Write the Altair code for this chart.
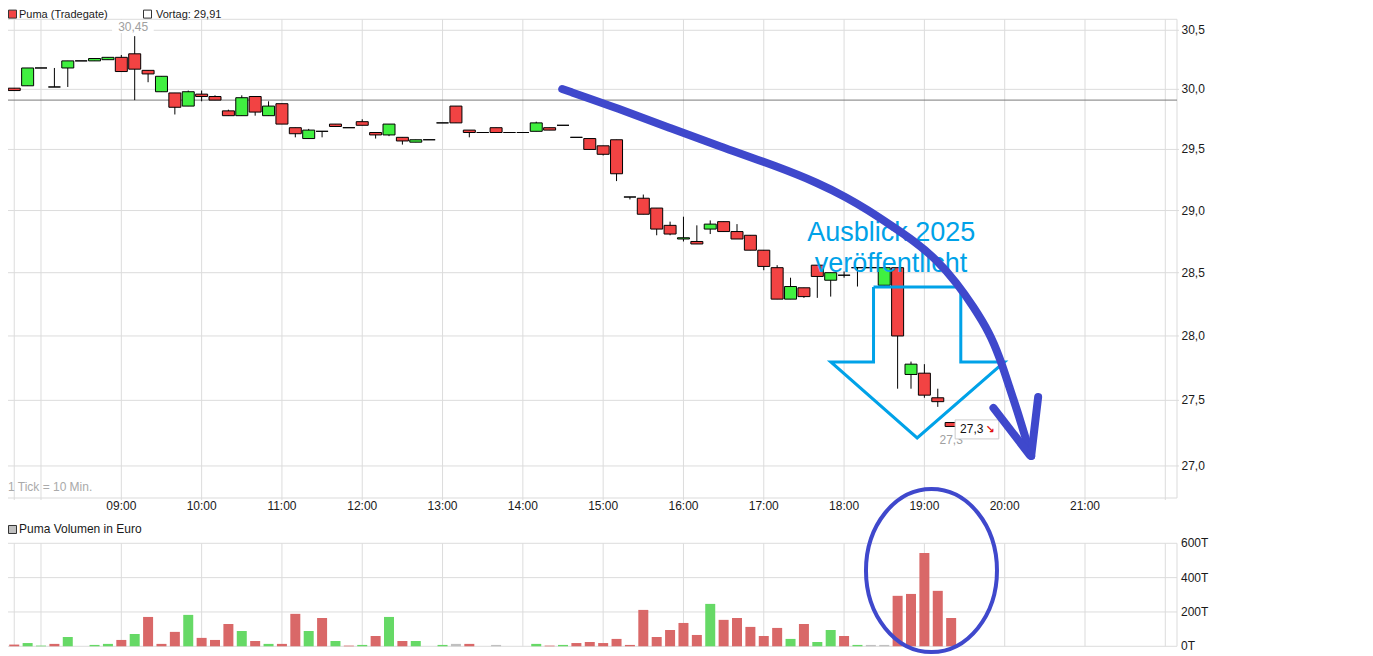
import altair as alt
import pandas as pd

# ---------------- data (10-minute candles, Tradegate) ----------------
start_time = "07:40"
tick_minutes = 10

opens = [30.01, 30.03, 30.18, 30.02, 30.18, 30.24, 30.24, 30.25, 30.27, 30.30,
         30.16, 29.98, 29.97, 29.86, 29.96, 29.94, 29.82, 29.78, 29.94, 29.78,
         29.88, 29.68, 29.59, 29.65, 29.71, 29.68, 29.73, 29.64, 29.62, 29.60,
         29.56, 29.58, 29.72, 29.86, 29.66, 29.64, 29.68, 29.64, 29.64, 29.65,
         29.68, 29.70, 29.60, 29.59, 29.53, 29.58, 29.11, 29.10, 29.02, 28.88,
         28.77, 28.75, 28.85, 28.91, 28.83, 28.80, 28.68, 28.54, 28.29, 28.38,
         28.56, 28.44, 28.48, 28.54, 28.54, 28.40, 28.54, 27.70, 27.71, 27.52,
         27.33]
highs = [30.01, 30.18, 30.18, 30.18, 30.24, 30.24, 30.26, 30.27, 30.29, 30.45,
         30.16, 30.11, 29.97, 29.99, 29.99, 29.95, 29.83, 29.95, 29.94, 29.90,
         29.88, 29.68, 29.67, 29.65, 29.71, 29.68, 29.75, 29.64, 29.71, 29.60,
         29.58, 29.58, 29.72, 29.86, 29.66, 29.64, 29.68, 29.64, 29.64, 29.73,
         29.68, 29.70, 29.60, 29.59, 29.53, 29.58, 29.11, 29.13, 29.02, 28.91,
         28.95, 28.88, 28.92, 28.91, 28.89, 28.80, 28.68, 28.56, 28.46, 28.38,
         28.56, 28.50, 28.51, 28.54, 28.54, 28.54, 28.54, 27.80, 27.78, 27.59,
         27.33]
lows = [29.99, 30.03, 30.18, 30.02, 30.02, 30.24, 30.24, 30.25, 30.15, 29.91,
        30.06, 29.98, 29.79, 29.86, 29.90, 29.91, 29.78, 29.78, 29.78, 29.78,
        29.71, 29.60, 29.59, 29.60, 29.69, 29.68, 29.70, 29.59, 29.61, 29.54,
        29.56, 29.58, 29.72, 29.72, 29.60, 29.64, 29.64, 29.64, 29.64, 29.65,
        29.66, 29.70, 29.60, 29.50, 29.45, 29.24, 29.09, 28.97, 28.80, 28.80,
        28.75, 28.73, 28.81, 28.83, 28.77, 28.68, 28.52, 28.29, 28.29, 28.30,
        28.30, 28.31, 28.46, 28.39, 28.54, 28.40, 27.59, 27.59, 27.52, 27.45,
        27.30]
closes = [29.99, 30.18, 30.18, 30.02, 30.24, 30.24, 30.26, 30.27, 30.15, 30.17,
          30.13, 30.11, 29.85, 29.98, 29.94, 29.91, 29.78, 29.93, 29.81, 29.86,
          29.71, 29.63, 29.66, 29.65, 29.69, 29.68, 29.70, 29.62, 29.71, 29.57,
          29.58, 29.58, 29.72, 29.72, 29.64, 29.64, 29.64, 29.64, 29.64, 29.72,
          29.66, 29.70, 29.60, 29.50, 29.46, 29.30, 29.11, 28.97, 28.85, 28.81,
          28.78, 28.73, 28.89, 28.83, 28.77, 28.68, 28.55, 28.29, 28.39, 28.31,
          28.47, 28.50, 28.48, 28.54, 28.54, 28.54, 28.00, 27.78, 27.54, 27.49,
          27.30]
volumes_t = [10, 19, 4, 14, 54, 0, 8, 14, 37, 72,
             171, 14, 84, 183, 49, 37, 130, 89, 31, 14,
             14, 189, 89, 165, 31, 4, 8, 60, 171, 31,
             31, 0, 8, 14, 14, 0, 8, 0, 0, 14,
             4, 8, 19, 25, 19, 43, 8, 212, 54, 95,
             136, 66, 247, 154, 165, 113, 60, 107, 43, 130,
             25, 95, 60, 8, 8, 8, 294, 305, 544, 323,
             165]
volume_side = ["dn", "up", "up", "dn", "up", "up", "up", "up", "dn", "up",
               "dn", "dn", "dn", "up", "dn", "dn", "dn", "up", "dn", "up",
               "dn", "dn", "up", "dn", "up", "dn", "up", "dn", "up", "dn",
               "up", "up", "up", "nn", "dn", "nn", "nn", "nn", "nn", "up",
               "dn", "up", "dn", "dn", "dn", "dn", "dn", "dn", "dn", "dn",
               "dn", "dn", "up", "dn", "dn", "dn", "dn", "dn", "up", "dn",
               "up", "up", "dn", "up", "nn", "nn", "dn", "dn", "dn", "dn",
               "dn"]

prev_close = 29.91
prev_close_label = "Vortag: 29,91"
series_label = "Puma (Tradegate)"
volume_label = "Puma Volumen in Euro"
tick_note = "1 Tick = 10 Min."

price_ticks = [27.0, 27.5, 28.0, 28.5, 29.0, 29.5, 30.0, 30.5]
price_tick_labels = ["27,0", "27,5", "28,0", "28,5", "29,0", "29,5", "30,0", "30,5"]
volume_ticks = [0, 200, 400, 600]
volume_tick_labels = ["0T", "200T", "400T", "600T"]
grid_times = ["07:40", "08:00", "09:00", "10:00", "11:00", "12:00", "13:00", "14:00",
              "15:00", "16:00", "17:00", "18:00", "19:00", "20:00", "21:00", "22:00"]
axis_times = ["09:00", "10:00", "11:00", "12:00", "13:00", "14:00", "15:00",
              "16:00", "17:00", "18:00", "19:00", "20:00", "21:00"]

high_label = "30,45"
low_label = "27,3"
last_label = "27,3"

# annotations (time index, price / volume units)
trend_i = [40.94, 45.24, 48.94, 52.64, 57.09, 60.05, 62.27, 63.76, 65.46, 67.24,
           68.94, 70.42, 71.68, 72.87, 73.61, 74.35, 75.09, 75.76, 75.98]
trend_p = [30.003, 29.836, 29.678, 29.529, 29.356, 29.225, 29.102, 29.005, 28.883, 28.754,
           28.602, 28.418, 28.228, 28.024, 27.836, 27.603, 27.373, 27.144, 27.076]
barb_left_i = [73.16, 75.87]
barb_left_p = [27.442, 27.083]
barb_right_i = [76.50, 75.98]
barb_right_p = [27.526, 27.076]
outline_i = [64.20, 70.72, 70.72, 73.98, 67.46, 61.01, 64.20, 64.20]
outline_p = [28.386, 28.386, 27.797, 27.797, 27.212, 27.797, 27.797, 28.386]
note_lines = ["Ausblick 2025", "veröffentlicht"]
note_i = [65.53, 65.50]
note_p = [28.757, 28.508]
ellipse_i = [68.53]
ellipse_v = [441.5]
high_box_i = [7.31, 10.42]
high_box_p = [30.588, 30.477]
last_box_i = [70.30, 73.56]
last_box_p = [27.350, 27.205]
last_text_i = [70.67, 72.57]
last_text_p = [27.247, 27.247]

# ---------------- layout / styles ----------------
PLOT_W = 1174.7
PRICE_TOP = 2.0
PRICE_BOTTOM = 480.7
VOL_TOP, VOL_BOTTOM = 526.0, 629.0
FONT = "Liberation Sans"
GRID = "#dcdcdc"
RED, GREEN = "#f24343", "#40f040"
VRED, VGREEN, VGRAY = "#d96868", "#66d966", "#c0c0c0"
INDIGO, TURQ = "#3f48cc", "#00a2e8"

t0 = int(start_time[:2]) * 60 + int(start_time[3:])


def idx(t):
    return (int(t[:2]) * 60 + int(t[3:]) - t0) / tick_minutes


XS = alt.Scale(domain=[-0.5185, 86.5], range=[0, PLOT_W], nice=False, zero=False)
PS = alt.Scale(type="log", domain=[26.759, 30.611], range=[PRICE_BOTTOM, 0], nice=False)
VS = alt.Scale(domain=[0, 600], range=[VOL_BOTTOM, VOL_TOP], nice=False, zero=True)


def X(f):
    return alt.X(f, type="quantitative", scale=XS, axis=None)


def YP(f):
    return alt.Y(f, type="quantitative", scale=PS, axis=None)


def YV(f):
    return alt.Y(f, type="quantitative", scale=VS, axis=None)


n = len(opens)
candles = pd.DataFrame({"i": list(range(n)), "open": opens, "high": highs,
                        "low": lows, "close": closes, "vol": volumes_t, "vside": volume_side})
candles["dir"] = ["up" if c > o else ("dn" if c < o else "flat") for o, c in zip(opens, closes)]

one = pd.DataFrame({"k": [0]})

layers = []

# grids
pt = pd.DataFrame({"p": price_ticks, "lab": price_tick_labels})
vt = pd.DataFrame({"v": volume_ticks, "lab": volume_tick_labels})
gt = pd.DataFrame({"i": [idx(t) for t in grid_times]})
at = pd.DataFrame({"i": [idx(t) for t in axis_times], "lab": axis_times})

layers.append(alt.Chart(pt).mark_rule(color=GRID, strokeWidth=1).encode(
    y=YP("p"), x=alt.value(0), x2=alt.value(PLOT_W + 2)))
layers.append(alt.Chart(gt).mark_rule(color=GRID, strokeWidth=1).encode(
    x=X("i"), y=alt.value(PRICE_TOP), y2=alt.value(PRICE_BOTTOM + 2)))
layers.append(alt.Chart(vt).mark_rule(color=GRID, strokeWidth=1).encode(
    y=YV("v"), x=alt.value(0), x2=alt.value(PLOT_W)))
layers.append(alt.Chart(gt).mark_rule(color=GRID, strokeWidth=1).encode(
    x=X("i"), y=alt.value(VOL_TOP), y2=alt.value(VOL_BOTTOM)))
# panel borders
for y1, y2 in [(PRICE_TOP, PRICE_BOTTOM), (VOL_TOP, VOL_BOTTOM)]:
    layers.append(alt.Chart(one).mark_rule(color=GRID).encode(
        x=alt.value(0), y=alt.value(y1), y2=alt.value(y2)))
    layers.append(alt.Chart(one).mark_rule(color=GRID).encode(
        x=alt.value(PLOT_W), y=alt.value(y1), y2=alt.value(y2)))
for yy in [PRICE_TOP, PRICE_BOTTOM]:
    layers.append(alt.Chart(one).mark_rule(color=GRID).encode(
        y=alt.value(yy), x=alt.value(0), x2=alt.value(PLOT_W)))

# axis labels
layers.append(alt.Chart(pt).mark_text(font=FONT, fontSize=12, color="#1a1a1a", align="left",
                                      baseline="middle").encode(
    y=YP("p"), x=alt.value(PLOT_W + 4.5), text="lab:N"))
layers.append(alt.Chart(vt).mark_text(font=FONT, fontSize=12, color="#1a1a1a", align="left",
                                      baseline="middle").encode(
    y=YV("v"), x=alt.value(PLOT_W + 4), text="lab:N"))
layers.append(alt.Chart(at).mark_text(font=FONT, fontSize=12, color="#1a1a1a", align="center",
                                      baseline="alphabetic").encode(
    x=X("i"), y=alt.value(493.2), text="lab:N"))

# legends / notes
LEG_BASE = 0.8
layers.append(alt.Chart(one).mark_rect(fill=RED, stroke="#333333", strokeWidth=1).encode(
    x=alt.value(6.2), x2=alt.value(14.2), y=alt.value(LEG_BASE - 8), y2=alt.value(LEG_BASE)))
layers.append(alt.Chart(one).mark_text(font=FONT, fontSize=11, color="#1a1a1a", align="left",
                                       baseline="alphabetic").encode(
    x=alt.value(16.7), y=alt.value(LEG_BASE), text=alt.value(series_label)))
layers.append(alt.Chart(one).mark_rect(fill="white", stroke="#333333", strokeWidth=1).encode(
    x=alt.value(141.2), x2=alt.value(149.2), y=alt.value(LEG_BASE - 8), y2=alt.value(LEG_BASE)))
layers.append(alt.Chart(one).mark_text(font=FONT, fontSize=11, color="#1a1a1a", align="left",
                                       baseline="alphabetic").encode(
    x=alt.value(153.7), y=alt.value(LEG_BASE), text=alt.value(prev_close_label)))
layers.append(alt.Chart(one).mark_rect(fill=VGRAY, stroke="#333333", strokeWidth=1).encode(
    x=alt.value(6.2), x2=alt.value(14.2), y=alt.value(508.2), y2=alt.value(516.2)))
layers.append(alt.Chart(one).mark_text(font=FONT, fontSize=12, color="#1a1a1a", align="left",
                                       baseline="alphabetic").encode(
    x=alt.value(16.7), y=alt.value(516.2), text=alt.value(volume_label)))
layers.append(alt.Chart(one).mark_text(font=FONT, fontSize=12, color="#aaaaaa", align="left",
                                       baseline="alphabetic").encode(
    x=alt.value(5.7), y=alt.value(474.2), text=alt.value(tick_note)))

# previous close line
layers.append(alt.Chart(pd.DataFrame({"p": [prev_close]})).mark_rule(color="#7a7a7a", strokeWidth=1).encode(
    y=YP("p"), x=alt.value(0), x2=alt.value(PLOT_W)))

# high label with white background
hb = pd.DataFrame({"x1": [high_box_i[0]], "x2": [high_box_i[1]], "y1": [high_box_p[0]], "y2": [high_box_p[1]]})
layers.append(alt.Chart(hb).mark_rect(fill="white").encode(
    x=X("x1"), x2="x2", y=YP("y1"), y2="y2"))
hi_idx = highs.index(max(highs))
layers.append(alt.Chart(pd.DataFrame({"i": [hi_idx], "p": [highs[hi_idx]], "lab": [high_label]})).mark_text(
    font=FONT, fontSize=12, color="#a0a0a0", align="center", baseline="alphabetic", dy=-5.2, dx=-1.5).encode(
    x=X("i"), y=YP("p"), text="lab:N"))

# wicks and bodies
layers.append(alt.Chart(candles).transform_filter("datum.high > datum.low").mark_rule(
    color="black", strokeWidth=1).encode(x=X("i"), y=YP("high"), y2="low"))
layers.append(alt.Chart(candles).mark_bar(size=12, stroke="black", strokeWidth=1).encode(
    x=X("i"), y=YP("open"), y2="close",
    color=alt.Color("dir:N", scale=alt.Scale(domain=["up", "dn", "flat"], range=[GREEN, RED, "black"]),
                    legend=None)))

# volume bars
layers.append(alt.Chart(candles).transform_filter("datum.vol > 0").mark_bar(size=10).encode(
    x=X("i"), y=YV("vol"),
    fill=alt.Fill("vside:N", scale=alt.Scale(domain=["up", "dn", "nn"], range=[VGREEN, VRED, VGRAY]),
                  legend=None)))

# low label + last price tag
lo_idx = lows.index(min(lows))
layers.append(alt.Chart(pd.DataFrame({"i": [lo_idx], "p": [lows[lo_idx]], "lab": [low_label]})).mark_text(
    font=FONT, fontSize=12, color="#a0a0a0", align="center", baseline="alphabetic", dy=18).encode(
    x=X("i"), y=YP("p"), text="lab:N"))
lb = pd.DataFrame({"x1": [last_box_i[0]], "x2": [last_box_i[1]], "y1": [last_box_p[0]], "y2": [last_box_p[1]]})
layers.append(alt.Chart(lb).mark_rect(fill="white", stroke="#cccccc", strokeWidth=1).encode(
    x=X("x1"), x2="x2", y=YP("y1"), y2="y2"))
layers.append(alt.Chart(pd.DataFrame({"i": [last_text_i[0]], "p": [last_text_p[0]], "lab": [last_label]})).mark_text(
    font=FONT, fontSize=12, color="#111111", align="left", baseline="alphabetic").encode(
    x=X("i"), y=YP("p"), text="lab:N"))
layers.append(alt.Chart(pd.DataFrame({"i": [last_text_i[1]], "p": [last_text_p[1]], "lab": ["\u2198"]})).mark_text(
    font="DejaVu Sans", fontSize=11, color="#e01010", fontWeight="bold", align="left", baseline="alphabetic").encode(
    x=X("i"), y=YP("p"), text="lab:N"))

# annotations
outline = pd.DataFrame({"i": outline_i, "p": outline_p, "o": list(range(len(outline_i)))})
layers.append(alt.Chart(outline).mark_line(color=TURQ, strokeWidth=3, strokeJoin="miter").encode(
    x=X("i"), y=YP("p"), order="o:Q"))

notes = pd.DataFrame({"i": note_i, "p": note_p, "lab": note_lines})
layers.append(alt.Chart(notes).mark_text(font=FONT, fontSize=27, color=TURQ, align="center",
                                         baseline="alphabetic").encode(
    x=X("i"), y=YP("p"), text="lab:N"))

curve = pd.DataFrame({"i": trend_i, "p": trend_p, "o": list(range(len(trend_i)))})
layers.append(alt.Chart(curve).mark_line(color=INDIGO, strokeWidth=8, strokeCap="round",
                                         strokeJoin="round", interpolate="basis").encode(
    x=X("i"), y=YP("p"), order="o:Q"))
barb_rows = []
for seg, xs, ys in [("bl", barb_left_i, barb_left_p), ("br", barb_right_i, barb_right_p)]:
    for k, (a, b) in enumerate(zip(xs, ys)):
        barb_rows.append({"seg": seg, "o": k, "i": a, "p": b})
barbs = pd.DataFrame(barb_rows)
layers.append(alt.Chart(barbs).mark_line(color=INDIGO, strokeWidth=8, strokeCap="round",
                                         strokeJoin="round").encode(
    x=X("i"), y=YP("p"), detail="seg:N", order="o:Q"))

ratio = 65.5 / 81.5
ell_path = f"M {-ratio:.4f} 0 A {ratio:.4f} 1 0 1 1 {ratio:.4f} 0 A {ratio:.4f} 1 0 1 1 {-ratio:.4f} 0 Z"
layers.append(alt.Chart(pd.DataFrame({"i": ellipse_i, "v": ellipse_v})).mark_point(
    shape=ell_path, size=163 * 163, filled=False, stroke=INDIGO, strokeWidth=4, opacity=1).encode(
    x=X("i"), y=YV("v")))

chart = alt.layer(*layers).resolve_scale(y="independent", color="independent", fill="independent").properties(
    width=PLOT_W, height=VOL_BOTTOM,
    autosize=alt.AutoSizeParams(type="none"),
    padding={"left": -5.7, "top": 9.3, "right": 60, "bottom": 10},
).configure_view(stroke=None)

chart.save("out.html", embed_options={"renderer": "svg", "actions": False})
